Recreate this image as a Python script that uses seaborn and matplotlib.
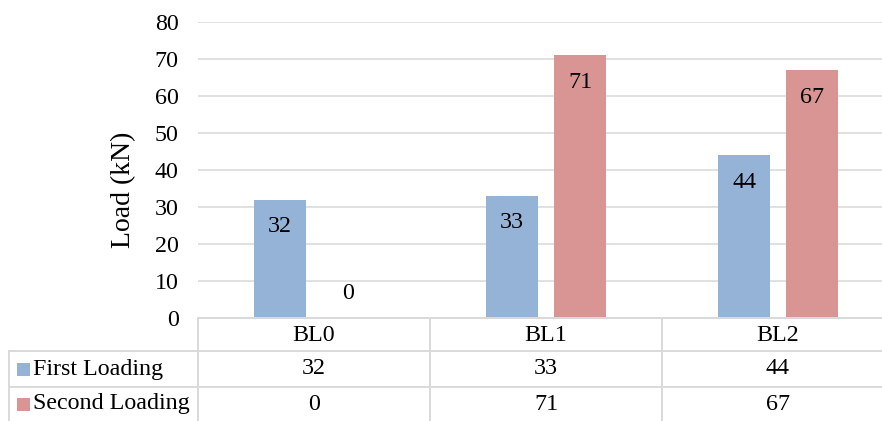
import matplotlib
matplotlib.use("Agg")
import matplotlib.pyplot as plt
import seaborn as sns
import pandas as pd
from matplotlib.patches import Rectangle
from matplotlib.lines import Line2D

categories = ["BL0", "BL1", "BL2"]
series_names = ["First Loading", "Second Loading"]
first_loading = [32, 33, 44]
second_loading = [0, 71, 67]
y_ticks = [0, 10, 20, 30, 40, 50, 60, 70, 80]
colors = ["#95B3D7", "#D99594"]

sns.set_style("white")
plt.rcParams["font.family"] = ["Liberation Serif", "DejaVu Serif"]
plt.rcParams["text.color"] = "black"
plt.rcParams["axes.labelcolor"] = "black"
plt.rcParams["ytick.color"] = "black"

FS = 17.3
W, H = 882, 421
fig = plt.figure(figsize=(W / 100, H / 100), dpi=100)

def fx(px):
    return px / W

def fy(py):
    return 1 - py / H

ax_left, ax_right_px, ax_top, ax_bottom = 198, 894, 22, 318
ax = fig.add_axes([fx(ax_left), fy(ax_bottom), fx(ax_right_px - ax_left), (ax_bottom - ax_top) / H])

df = pd.DataFrame({
    "category": categories * 2,
    "series": [series_names[0]] * 3 + [series_names[1]] * 3,
    "value": first_loading + second_loading,
})

sns.barplot(data=df, x="category", y="value", hue="series", order=categories,
            hue_order=series_names, palette=colors, width=0.586, gap=0.235,
            saturation=1, legend=False, ax=ax, errorbar=None, linewidth=0)

ax.set_xlim(-0.5, 2.5)
ax.set_ylim(0, 80)
ax.set_yticks(y_ticks)
ax.set_yticklabels([str(t) for t in y_ticks], fontsize=FS, color="black")
ax.tick_params(axis="y", length=0, pad=14)
ax.set_xticks([])
ax.set_xlabel("")
ax.set_ylabel("Load (kN)", fontsize=20, color="black")
ax.yaxis.label.set_va("center")
ax.yaxis.set_label_coords((124 - ax_left) / (ax_right_px - ax_left), (ax_bottom - 190) / (ax_bottom - ax_top))
for s in ax.spines.values():
    s.set_visible(False)
ax.yaxis.grid(True, color="#D9D9D9", linewidth=1.1)
ax.set_axisbelow(True)

# data labels
for cont, vals in zip(ax.containers, [first_loading, second_loading]):
    for bar, v in zip(cont, vals):
        xc = bar.get_x() + bar.get_width() / 2
        if v > 0:
            ax.annotate(str(v), (xc, v), xytext=(0, -19.5), textcoords="offset points",
                        ha="center", va="center", fontsize=FS, color="black")
        else:
            ax.annotate(str(v), (xc, v), xytext=(0, 17.5), textcoords="offset points",
                        ha="center", va="center", fontsize=FS, color="black")

# data table
lc = "#D9D9D9"
lw = 1.4
col_edges = [198, 430, 662, 894]
def hline(x0, x1, y):
    fig.add_artist(Line2D([fx(x0), fx(x1)], [fy(y), fy(y)], color=lc, lw=lw, transform=fig.transFigure))
def vline(x, y0, y1):
    fig.add_artist(Line2D([fx(x), fx(x)], [fy(y0), fy(y1)], color=lc, lw=lw, transform=fig.transFigure))

hline(198, W, 318)
hline(9, W, 351)
hline(9, W, 387)
vline(9, 351, H)
for x in col_edges[:3]:
    vline(x, 318, H)

row_centers = [335.5, 369, 404]
for i, cat in enumerate(categories):
    cx = (col_edges[i] + col_edges[i + 1]) / 2
    fig.text(fx(cx), fy(row_centers[0]), cat, ha="center", va="center", fontsize=FS, color="black")
    fig.text(fx(cx), fy(row_centers[1]), str(first_loading[i]), ha="center", va="center", fontsize=FS, color="black")
    fig.text(fx(cx), fy(row_centers[2]), str(second_loading[i]), ha="center", va="center", fontsize=FS, color="black")

for j, (name, c) in enumerate(zip(series_names, colors)):
    yc = row_centers[j + 1]
    fig.add_artist(Rectangle((fx(17), fy(yc + 6.5)), fx(12.5), 13 / H, facecolor=c,
                             edgecolor="none", transform=fig.transFigure))
    fig.text(fx(33), fy(yc), name, ha="left", va="center", fontsize=FS, color="black")

fig.savefig("out.png", dpi=100)
